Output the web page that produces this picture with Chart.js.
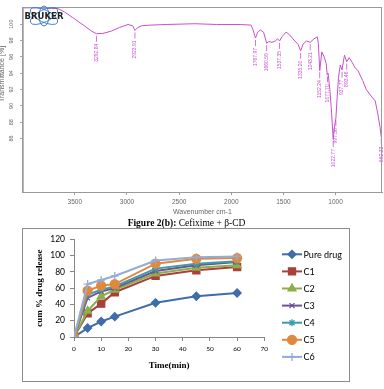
<!DOCTYPE html>
<html>
<head>
<meta charset="utf-8">
<script src="https://cdn.jsdelivr.net/npm/chart.js@4.4.1/dist/chart.umd.min.js"></script>
<style>
  html, body { margin: 0; padding: 0; background: #fff; }
  body { width: 384px; height: 389px; position: relative; overflow: hidden; }
  #irChart { position: absolute; left: 0; top: 0; }
  .frame {
    position: absolute; left: 22px; top: 228px; width: 328px; height: 154px;
    box-sizing: border-box; border: 1px solid #8c8c8c;
  }
  .frame canvas { display: block; }
</style>
</head>
<body>
<canvas id="irChart" width="384" height="228"></canvas>
<div class="frame"><canvas id="releaseChart" width="326" height="152"></canvas></div>
<script>
// IR spectrum (wavenumber cm-1 / transmittance %)
const wavenumbers = [4000, 3900, 3770, 3660, 3600, 3520, 3420, 3340, 3293, 3230, 3150, 3070, 2990, 2945, 2924, 2900,
    2860, 2780, 2620, 2350, 2140, 1915, 1810, 1792, 1768, 1747, 1722, 1690, 1661, 1641, 1610, 1578, 1556, 1537, 1513,
    1475, 1440, 1400, 1360, 1335, 1312, 1280, 1243, 1208, 1176, 1165, 1152, 1132, 1110, 1090, 1080, 1072, 1055, 1040,
    1023, 1010, 997, 985, 972, 955, 938, 915, 893, 870, 840, 815, 785, 740, 706, 660, 620, 595, 575, 562, 555]
const transmittance = [102.0, 102.0, 101.95, 101.9, 101.5, 100.8, 99.9, 99.15, 98.83, 98.87, 99.15, 99.6, 99.96, 99.8,
    99.23, 99.56, 99.8, 99.88, 99.96, 100.05, 99.96, 99.96, 99.88, 99.3, 98.3, 99.0, 99.3, 99.0, 97.66, 97.86, 97.78,
    97.94, 98.2, 97.94, 98.47, 99.03, 98.67, 98.06, 97.54, 96.73, 97.54, 97.94, 97.78, 98.19, 98.45, 97.6, 94.3, 96.6,
    96.0, 95.2, 93.8, 94.0, 92.0, 89.5, 85.9, 87.5, 88.5, 91.0, 93.5, 95.0, 94.4, 96.2, 95.4, 95.9, 95.3, 94.7, 94.3,
    93.1, 92.0, 91.2, 90.6, 89.0, 87.5, 86.2, 86.8]
const peakLabels = ['3292.84', '2923.91', '1767.97', '1660.59', '1537.35', '1335.20', '1243.21', '1152.24',
    '1077.70', '1022.77', '997.36', '937.77', '893.46', '562.33']
const irTicksX = [3500, 3000, 2500, 2000, 1500, 1000]
const irTicksY = [86, 88, 90, 92, 94, 96, 98, 100]

// dissolution profile
const timeMin = [0, 5, 10, 15, 30, 45, 60]
const pureDrug = [0, 11, 19, 25, 42, 50, 54]
const c1 = [0, 29, 41, 55, 75, 82, 86]
const c2 = [0, 32, 50, 58, 78, 85, 88]
const c3 = [0, 48, 56, 60, 81, 88, 92]
const c4 = [0, 52, 58, 62, 84, 90, 93]
const c5 = [0, 57, 63, 65, 90, 96, 97]
const c6 = [0, 65, 70, 75, 94, 98, 99]
const seriesLabels = ['Pure drug', 'C1', 'C2', 'C3', 'C4', 'C5', 'C6']

const IR_COLOR = '#c94fcf'
const AXIS_GRAY = '#9a9a9a'

function interpolateT(wn) {
    for (let i = 0; i < wavenumbers.length - 1; i++) {
        const a = wavenumbers[i], b = wavenumbers[i + 1]
        if (wn <= a && wn >= b) {
            const f = (a - wn) / (a - b)
            return transmittance[i] + f * (transmittance[i + 1] - transmittance[i])
        }
    }
    return transmittance[transmittance.length - 1]
}

const irBox = {
    id: 'irBox',
    afterDraw(chart) {
        const { ctx, chartArea: a } = chart
        ctx.save()
        ctx.strokeStyle = AXIS_GRAY
        ctx.lineWidth = 1
        ctx.strokeRect(a.left + 0.5, a.top + 0.5, a.right - a.left - 1, a.bottom - a.top)
        ctx.restore()
    }
}

const peakMarks = {
    id: 'peakMarks',
    afterDatasetsDraw(chart) {
        const { ctx, scales: { x, y } } = chart
        ctx.save()
        ctx.strokeStyle = IR_COLOR
        ctx.fillStyle = IR_COLOR
        ctx.lineWidth = 0.8
        ctx.font = '5px "Liberation Sans"'
        ctx.textAlign = 'right'
        ctx.textBaseline = 'middle'
        peakLabels.forEach(label => {
            const wn = parseFloat(label)
            const px = x.getPixelForValue(wn)
            const py = y.getPixelForValue(interpolateT(wn))
            ctx.beginPath()
            ctx.moveTo(px, py + 2)
            ctx.lineTo(px, py + 8)
            ctx.stroke()
            ctx.save()
            ctx.translate(px, py + 10)
            ctx.rotate(-Math.PI / 2)
            ctx.fillText(label, 0, 0)
            ctx.restore()
        })
        ctx.restore()
    }
}

const brukerLogo = {
    id: 'brukerLogo',
    afterDraw(chart) {
        const { ctx } = chart
        const cx = 44, cy = 16
        ctx.save()
        ctx.strokeStyle = '#3d80d0'
        ctx.lineWidth = 1
        ;[0.45, -0.45].forEach(rot => {
            ctx.beginPath()
            ctx.ellipse(cx, cy, 15, 6, rot, 0, Math.PI * 2)
            ctx.stroke()
        })
        ctx.beginPath()
        ctx.ellipse(cx, cy, 5, 10, 0, 0, Math.PI * 2)
        ctx.stroke()
        ctx.fillStyle = '#222'
        ctx.font = 'bold 8.5px "DejaVu Sans"'
        ctx.textAlign = 'center'
        ctx.textBaseline = 'middle'
        ctx.fillText('BRUKER', cx, cy + 0.5)
        ctx.restore()
    }
}

// y title of the spectrum and the figure caption under it
const irTexts = {
    id: 'irTexts',
    afterDraw(chart) {
        const { ctx } = chart
        ctx.save()
        ctx.fillStyle = '#666'
        ctx.font = '7px "Liberation Sans"'
        ctx.textAlign = 'center'
        ctx.textBaseline = 'middle'
        ctx.translate(2.5, 74)
        ctx.rotate(-Math.PI / 2)
        ctx.fillText('Transmittance [%]', 0, 0)
        ctx.restore()

        const bold = 'Figure 2(b):', rest = ' Cefixime + β-CD'
        ctx.save()
        ctx.fillStyle = '#000'
        ctx.textBaseline = 'middle'
        ctx.textAlign = 'left'
        ctx.font = 'bold 9.5px "Liberation Serif"'
        const wBold = ctx.measureText(bold).width
        ctx.font = '9.5px "Liberation Serif"'
        const wRest = ctx.measureText(rest).width
        const x0 = 186.5 - (wBold + wRest) / 2
        ctx.font = 'bold 9.5px "Liberation Serif"'
        ctx.fillText(bold, x0, 223.5)
        ctx.font = '9.5px "Liberation Serif"'
        ctx.fillText(rest, x0 + wBold, 223.5)
        ctx.restore()
    }
}

new Chart(document.getElementById('irChart'), {
    type: 'line',
    data: {
        datasets: [{
            data: wavenumbers.map((w, i) => ({ x: w, y: transmittance[i] })),
            borderColor: IR_COLOR,
            borderWidth: 1,
            pointRadius: 0,
            tension: 0,
        }]
    },
    options: {
        responsive: false,
        animation: false,
        events: [],
        layout: { padding: { top: 5, right: 2, left: 0, bottom: 12 } },
        plugins: { legend: { display: false }, tooltip: { enabled: false } },
        scales: {
            x: {
                type: 'linear',
                reverse: true,
                min: 555,
                max: 4000,
                afterBuildTicks: s => { s.ticks = irTicksX.map(v => ({ value: v })) },
                afterFit: s => { s.height = 24 },
                grid: { drawOnChartArea: false, tickLength: 3, color: AXIS_GRAY },
                border: { color: AXIS_GRAY },
                ticks: {
                    callback: v => String(v), maxRotation: 0, padding: 3.5,
                    color: '#666', font: { family: 'Liberation Sans', size: 6.5 }
                },
                title: {
                    display: true, text: 'Wavenumber cm-1', color: '#666', padding: 0,
                    font: { family: 'Liberation Sans', size: 7, lineHeight: 1 }
                }
            },
            y: {
                type: 'linear',
                min: 79.45,
                max: 102.1,
                afterBuildTicks: s => { s.ticks = irTicksY.map(v => ({ value: v })) },
                afterFit: s => { s.width = 22.7 },
                grid: { drawOnChartArea: false, tickLength: 2.5, color: AXIS_GRAY },
                border: { color: AXIS_GRAY },
                ticks: {
                    callback: v => String(v), minRotation: 90, maxRotation: 90, crossAlign: 'center',
                    padding: 3.7, color: '#666', font: { family: 'Liberation Sans', size: 5.5 }
                }
            }
        }
    },
    plugins: [irBox, peakMarks, brukerLogo, irTexts]
})

// release chart
const seriesValues = [pureDrug, c1, c2, c3, c4, c5, c6]
const seriesColors = ['#3f6cab', '#a9403d', '#8daf47', '#6e5391', '#3c9bb0', '#e0893d', '#94abd6']
const seriesMarkers = ['rectRot', 'rect', 'triangle', 'crossRot', 'star', 'circle', 'cross']
const markerRadius = [4, 5, 4.5, 3.5, 3.5, 4.5, 4]

const releaseLegend = {
    id: 'releaseLegend',
    afterDraw(chart) {
        const { ctx } = chart
        const x0 = 259, x1 = 279, yStart = 25.3, step = 17.1
        ctx.save()
        ctx.font = '9px Lato'
        ctx.textBaseline = 'middle'
        ctx.fillStyle = '#000'
        chart.data.datasets.forEach((ds, i) => {
            const y = yStart + i * step
            ctx.strokeStyle = ds.borderColor
            ctx.lineWidth = 2
            ctx.beginPath()
            ctx.moveTo(x0, y)
            ctx.lineTo(x1, y)
            ctx.stroke()
            ctx.fillStyle = ds.backgroundColor
            ctx.lineWidth = ds.pointBorderWidth
            if (Chart.helpers && Chart.helpers.drawPoint) {
                Chart.helpers.drawPoint(ctx, { pointStyle: ds.pointStyle, radius: ds.pointRadius, borderWidth: ds.pointBorderWidth, rotation: 0 }, (x0 + x1) / 2, y)
            }
            ctx.fillStyle = '#000'
            ctx.fillText(ds.label, x1 + 1.5, y + 0.5)
        })
        ctx.restore()
    }
}

new Chart(document.getElementById('releaseChart'), {
    type: 'line',
    data: {
        datasets: seriesLabels.map((label, i) => ({
            label,
            data: seriesValues[i].map((v, j) => ({ x: timeMin[j], y: v })),
            borderColor: seriesColors[i],
            backgroundColor: seriesColors[i],
            borderWidth: 2,
            pointStyle: seriesMarkers[i],
            pointRadius: markerRadius[i],
            pointBorderWidth: 1.3,
            tension: 0,
            order: seriesLabels.length - i,
        }))
    },
    options: {
        responsive: false,
        animation: false,
        events: [],
        layout: { padding: { top: 10.3, right: 84.7, left: 0, bottom: 0 } },
        plugins: { legend: { display: false }, tooltip: { enabled: false } },
        scales: {
            x: {
                type: 'linear',
                min: 0,
                max: 70,
                ticks: { stepSize: 10, padding: 4.5, maxRotation: 0, color: '#000', font: { family: 'Lato', size: 6.5 } },
                afterFit: s => { s.height = 44 },
                grid: { drawOnChartArea: false, tickLength: 4, color: '#868686' },
                border: { color: '#868686' },
                title: {
                    display: true, text: 'Time(min)', color: '#000', padding: { top: 0, bottom: 10.5 },
                    font: { family: 'Liberation Serif', size: 9, weight: 'bold', lineHeight: 1 }
                }
            },
            y: {
                type: 'linear',
                min: 0,
                max: 120,
                ticks: { stepSize: 20, padding: 5, color: '#000', font: { family: 'Lato', size: 8.5 } },
                afterFit: s => { s.width = 51 },
                grid: { drawOnChartArea: false, tickLength: 4, color: '#868686' },
                border: { color: '#868686' },
                title: {
                    display: true, text: 'cum % drug release', color: '#000', padding: { top: 12.5, bottom: 0 },
                    font: { family: 'Liberation Serif', size: 9, weight: 'bold', lineHeight: 1 }
                }
            }
        }
    },
    plugins: [releaseLegend]
})
</script>
</body>
</html>
